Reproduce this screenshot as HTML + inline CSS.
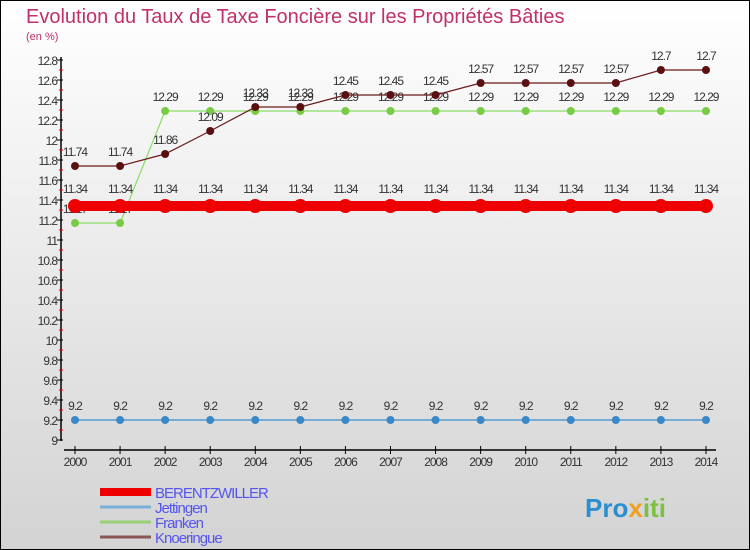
<!DOCTYPE html>
<html><head><meta charset="utf-8"><style>
body{margin:0}
svg{display:block;font-family:"Liberation Sans",sans-serif}
</style></head><body>
<svg id="chart" width="750" height="550" viewBox="0 0 750 550">
<defs><linearGradient id="bg" x1="0" y1="0" x2="0" y2="1"><stop offset="0" stop-color="#ffffff"/><stop offset="1" stop-color="#d3d3d3"/></linearGradient></defs>
<rect x="0.5" y="0.5" width="749" height="549" fill="url(#bg)" stroke="#000"/>
<text x="26" y="23" font-size="20" fill="#c0306a">Evolution du Taux de Taxe Foncière sur les Propriétés Bâties</text>
<text x="26" y="40" font-size="11" fill="#c0306a">(en %)</text>
<g id="axes"></g>
<g id="series"></g>
<g id="legend"></g>
<text x="585" y="517" font-size="26" font-weight="bold" fill="#2a8fd0">Pro<tspan fill="#f0a020">x</tspan><tspan fill="#7cc242">iti</tspan></text>
</svg>
<script>
const years=[2000,2001,2002,2003,2004,2005,2006,2007,2008,2009,2010,2011,2012,2013,2014];
const seriesNames=["BERENTZWILLER","Jettingen","Franken","Knoeringue"];
const berentzwiller=[11.34,11.34,11.34,11.34,11.34,11.34,11.34,11.34,11.34,11.34,11.34,11.34,11.34,11.34,11.34];
const jettingen=[9.2,9.2,9.2,9.2,9.2,9.2,9.2,9.2,9.2,9.2,9.2,9.2,9.2,9.2,9.2];
const franken=[11.17,11.17,12.29,12.29,12.29,12.29,12.29,12.29,12.29,12.29,12.29,12.29,12.29,12.29,12.29];
const knoeringue=[11.74,11.74,11.86,12.09,12.33,12.33,12.45,12.45,12.45,12.57,12.57,12.57,12.57,12.7,12.7];
const yTicks=["9","9.2","9.4","9.6","9.8","10","10.2","10.4","10.6","10.8","11","11.2","11.4","11.6","11.8","12","12.2","12.4","12.6","12.8"];
const NS="http://www.w3.org/2000/svg";
const x=i=>75+i*45.07;
const y=v=>440-(v-9)*100;
function el(t,a,p){const e=document.createElementNS(NS,t);for(const k in a)e.setAttribute(k,a[k]);p.appendChild(e);return e;}
const ax=document.getElementById('axes');
let a=el('line',{x1:61,y1:57,x2:61,y2:441,stroke:'#000','stroke-width':1.5},ax);


a=el('line',{x1:64,y1:450,x2:716,y2:450,stroke:'#000','stroke-width':1.5},ax);


for(let k=0;k<19;k++){const v=9.1+k*0.2;el('line',{x1:59,x2:63,y1:y(v),y2:y(v),stroke:'#e00'},ax);}
yTicks.forEach(t=>{const v=parseFloat(t);el('line',{x1:57,x2:63,y1:y(v),y2:y(v),stroke:'#000'},ax);
const tx=el('text',{x:57,y:y(v)+5,'font-size':12,fill:'#333','text-anchor':'end','letter-spacing':'-1'},ax);tx.textContent=t;

});
years.forEach((yr,i)=>{el('line',{x1:x(i),x2:x(i),y1:446,y2:454,stroke:'#000'},ax);
const tx=el('text',{x:x(i),y:466,'font-size':12,fill:'#333','text-anchor':'middle','letter-spacing':'-1'},ax);tx.textContent=yr;

});
const sg=document.getElementById('series');
const defs=[[franken,'#88dd66','#77cc44',1.2,4],[knoeringue,'#6b1a1a','#5a1010',1.2,4],[jettingen,'#3a8fd0','#3a88c8',1.2,4],[berentzwiller,'#ee0000','#ee0000',10,7]];
const names=['franken','knoeringue','jettingen','berentzwiller'];
defs.forEach(([d,lc,pc,w,r],si)=>{
const pts=d.map((v,i)=>x(i)+','+y(v)).join(' ');
const pl=el('polyline',{points:pts,fill:'none',stroke:lc,'stroke-width':w},sg);


d.forEach((v,i)=>{const c=el('circle',{cx:x(i),cy:y(v),r:r,fill:pc},sg);


const t=el('text',{x:x(i),y:y(v)-(r>5?13:10),'font-size':12,fill:'#333','text-anchor':'middle','letter-spacing':'-1'},sg);t.textContent=v;

});});
const lg=document.getElementById('legend');
const lcols=['#ee0000','#7ab0d8','#99d077','#8a5555'];const lw=[8,3,3,3];
seriesNames.forEach((n,i)=>{const yy=492+i*15;
const l=el('line',{x1:100,x2:151,y1:yy,y2:yy,stroke:lcols[i],'stroke-width':lw[i]},lg);


const t=el('text',{x:155,y:yy+6,'font-size':15,fill:'#5555ee','letter-spacing':'-1'},lg);t.textContent=n;

});
</script>
</body></html>
